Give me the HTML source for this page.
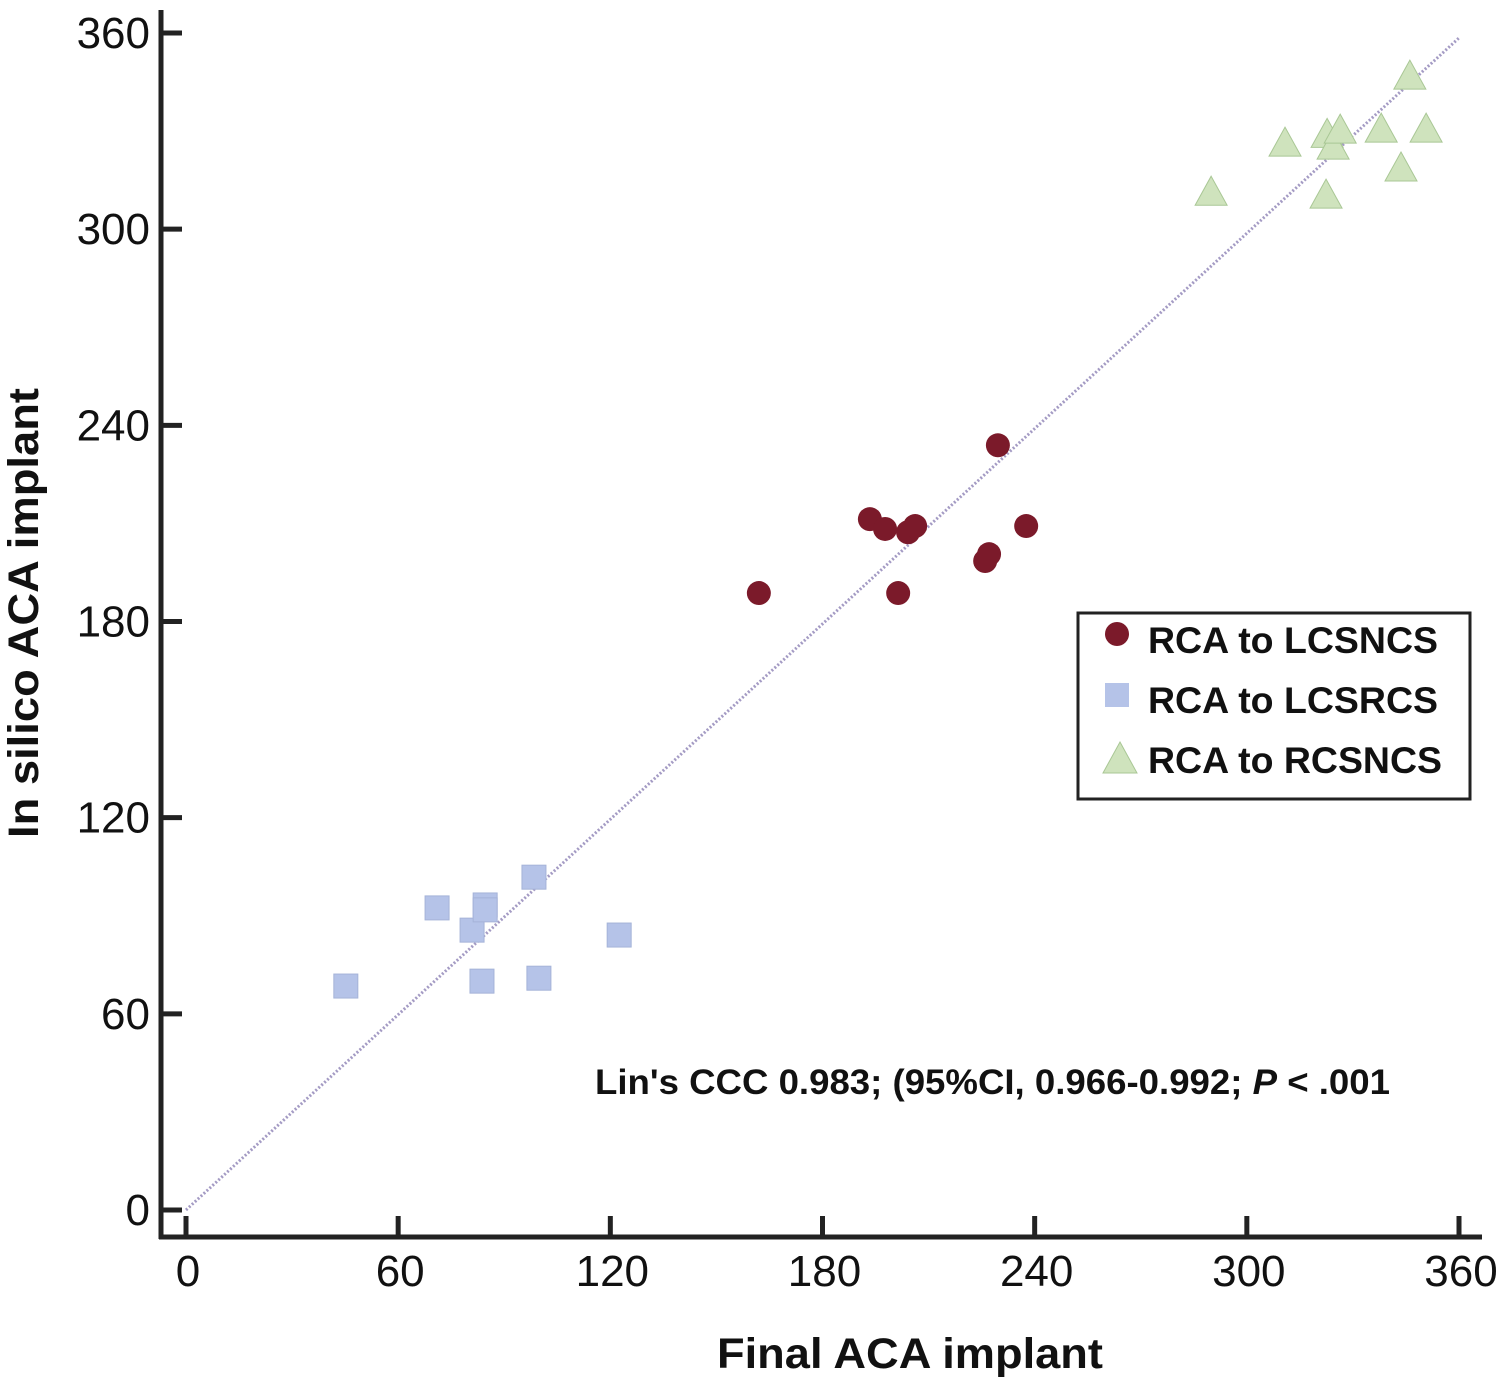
<!DOCTYPE html>
<html><head><meta charset="utf-8"><style>
body{margin:0;background:#fff}
svg text{font-family:"Liberation Sans",Arial,sans-serif;fill:#111}
</style></head><body>
<svg id="chart" width="1505" height="1382">
<g id="axes"></g><g id="marks"></g>
<g>
<rect x="1078" y="613" width="392" height="186" fill="#fff" stroke="#222" stroke-width="3"/>
<circle cx="1117" cy="634" r="12" fill="#7b1a2a"/>
<text x="1148" y="653" font-size="37" font-weight="bold" textLength="290" lengthAdjust="spacingAndGlyphs">RCA to LCSNCS</text>
<rect x="1105" y="683" width="24" height="24" fill="#b5c3e8"/>
<text x="1148" y="713" font-size="37" font-weight="bold" textLength="290" lengthAdjust="spacingAndGlyphs">RCA to LCSRCS</text>
<polygon points="1120,742 1137,773 1103,773" fill="#cfe3bd" stroke="#a9c795"/>
<text x="1148" y="773" font-size="37" font-weight="bold" textLength="294" lengthAdjust="spacingAndGlyphs">RCA to RCSNCS</text>
</g>
<text x="595" y="1094" font-size="35" font-weight="bold" textLength="795" lengthAdjust="spacingAndGlyphs">Lin's CCC 0.983; (95%CI, 0.966-0.992; <tspan font-style="italic">P</tspan> &lt; .001</text>
<text x="717" y="1368" font-size="43" font-weight="bold" textLength="386" lengthAdjust="spacingAndGlyphs">Final ACA implant</text>
<text transform="translate(38,838) rotate(-90)" font-size="43" font-weight="bold" textLength="450" lengthAdjust="spacingAndGlyphs">In silico ACA implant</text>
</svg>
<script>
const xTicks=[0,60,120,180,240,300,360];
const yTicks=[0,60,120,180,240,300,360];
const lcsncsX=[162,193.4,197.7,201.4,204.2,206.2,226,227.1,229.6,237.6];
const lcsncsY=[188.7,211.3,208.3,188.7,207.3,209.2,198.5,200.6,233.9,209.2];
const lcsrcsX=[45.2,71,80.9,84.6,84.6,83.7,98.4,99.8,122.5];
const lcsrcsY=[68.5,92.4,85.6,93.3,91.8,70,101.8,70.9,84.1];
const rcsncsX=[289.9,310.8,322.4,322.7,324.4,326.4,338,343.6,346.1,350.7];
const rcsncsY=[311.3,326.3,310.4,329,325.4,330.3,330.6,318.7,346.8,330.6];
const sx=v=>186+v*(1459-186)/360;
const sy=v=>1210-v*(1210-33)/360;
const NS="http://www.w3.org/2000/svg";
function mk(tag,attrs,parent){const e=document.createElementNS(NS,tag);for(const k in attrs)e.setAttribute(k,attrs[k]);parent.appendChild(e);return e;}
const axes=document.getElementById('axes'),marks=document.getElementById('marks');
let e=mk('line',{x1:161,y1:10,x2:161,y2:1239,stroke:'#222','stroke-width':5},axes);


e=mk('line',{x1:159,y1:1237,x2:1482,y2:1237,stroke:'#222','stroke-width':5},axes);


xTicks.forEach(t=>{
 const l=mk('line',{x1:sx(t),y1:1216,x2:sx(t),y2:1237,stroke:'#222','stroke-width':5},axes);
 
 
 const tx=mk('text',{x:sx(t)+2,y:1286,'font-size':44,'text-anchor':'middle'},axes);tx.textContent=t;
 
 
});
yTicks.forEach(t=>{
 const l=mk('line',{x1:161,y1:sy(t),x2:182,y2:sy(t),stroke:'#222','stroke-width':5},axes);
 
 
 const tx=mk('text',{x:150,y:sy(t)+15,'font-size':44,'text-anchor':'end'},axes);tx.textContent=t;
 
 
});
e=mk('line',{x1:sx(0),y1:sy(0),x2:sx(360),y2:sy(358.5),stroke:'#a49bc4','stroke-width':3,'stroke-dasharray':'2,2'},marks);


lcsrcsX.forEach((v,i)=>{
 const r=mk('rect',{x:sx(v)-12,y:sy(lcsrcsY[i])-12,width:24,height:24,fill:'#b5c3e8',stroke:'#a5b3d8'},marks);
 
 
});
lcsncsX.forEach((v,i)=>{
 const c=mk('circle',{cx:sx(v),cy:sy(lcsncsY[i]),r:12,fill:'#7b1a2a'},marks);
 
 
});
rcsncsX.forEach((v,i)=>{
 const x=sx(v),y=sy(rcsncsY[i]);
 const p=mk('polygon',{points:`${x},${y-16} ${x+16},${y+13} ${x-16},${y+13}`,fill:'#cfe3bd',stroke:'#a9c795'},marks);
 
 
});
</script>
</body></html>
